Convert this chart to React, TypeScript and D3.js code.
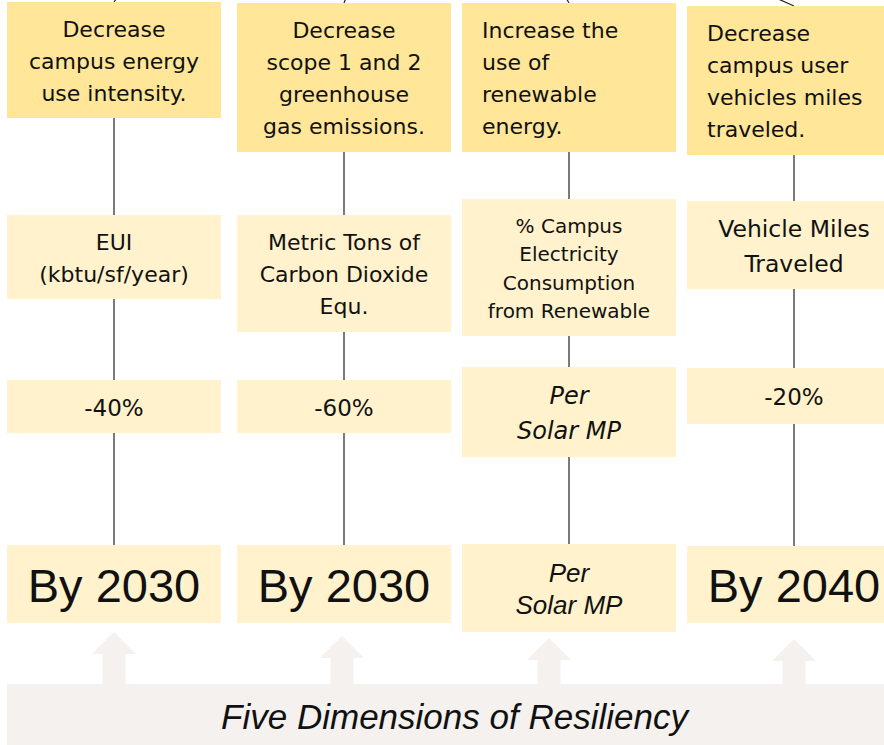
import { useRef, useEffect } from 'react';
import * as d3 from 'd3';

// diagram content, one entry per column
const goals = [
  ['Decrease', 'campus energy', 'use intensity.'],
  ['Decrease', 'scope 1 and 2', 'greenhouse', 'gas emissions.'],
  ['Increase the', 'use of', 'renewable', 'energy.'],
  ['Decrease', 'campus user', 'vehicles miles', 'traveled.'],
];
const metrics = [
  ['EUI', '(kbtu/sf/year)'],
  ['Metric Tons of', 'Carbon Dioxide', 'Equ.'],
  ['% Campus', 'Electricity', 'Consumption', 'from Renewable'],
  ['Vehicle Miles', 'Traveled'],
];
const targets = [['-40%'], ['-60%'], ['Per', 'Solar MP'], ['-20%']];
const deadlines = [['By 2030'], ['By 2030'], ['Per', 'Solar MP'], ['By 2040']];
const foundation = 'Five Dimensions of Resiliency';

const W = 884;
const H = 745;
const colLeft = [7, 237, 462, 687];
const boxW = 214;
// [top, bottom] of each box, per row then column
const rowBoxes = [
  [[2, 118], [3, 152], [3, 152], [6, 155]],
  [[215, 299], [215, 332], [199, 336], [201, 289]],
  [[380, 433], [380, 433], [367, 457], [368, 424]],
  [[545, 623], [545, 623], [544, 632], [546, 623]],
];
const arrowX = [114, 342, 549, 794];
const arrowTip = [632, 636, 638, 639];
const bannerTop = 684;
const connectorDx = [3, 2, -3, -18];

export default function App() {
  const svgRef = useRef(null);

  useEffect(() => {
    const svg = d3.select(svgRef.current);
    svg.selectAll('*').remove();

    const cols = d3.range(goals.length);
    const cx = (i) => colLeft[i] + boxW / 2;

    // vertical connectors behind the boxes
    svg.append('g')
      .selectAll('line')
      .data(cols)
      .join('line')
      .attr('x1', (i) => cx(i))
      .attr('x2', (i) => cx(i))
      .attr('y1', (i) => rowBoxes[0][i][1])
      .attr('y2', (i) => rowBoxes[3][i][0])
      .attr('stroke', '#222')
      .attr('stroke-width', 1.2);

    // stubs of the links going up to the parent node
    svg.append('g')
      .selectAll('line')
      .data(cols)
      .join('line')
      .attr('x1', (i) => cx(i))
      .attr('y1', (i) => rowBoxes[0][i][0])
      .attr('x2', (i) => cx(i) + connectorDx[i])
      .attr('y2', -2)
      .attr('stroke', '#222')
      .attr('stroke-width', 1.2);

    // arrows from the foundation banner
    const arrow = (x, tip) => {
      const p = d3.path();
      p.moveTo(x, tip);
      p.lineTo(x + 22, tip + 22);
      p.lineTo(x + 11.5, tip + 22);
      p.lineTo(x + 11.5, bannerTop + 1);
      p.lineTo(x - 11.5, bannerTop + 1);
      p.lineTo(x - 11.5, tip + 22);
      p.lineTo(x - 22, tip + 22);
      p.closePath();
      return p.toString();
    };
    svg.append('g')
      .selectAll('path')
      .data(cols)
      .join('path')
      .attr('d', (i) => arrow(arrowX[i], arrowTip[i]))
      .attr('fill', '#f4f1ee');

    svg.append('rect')
      .attr('x', colLeft[0])
      .attr('y', bannerTop)
      .attr('width', 895)
      .attr('height', H - bannerTop + 2)
      .attr('fill', '#f4f1ee');
    svg.append('text')
      .attr('x', colLeft[0] + 895 / 2)
      .attr('y', 729)
      .attr('text-anchor', 'middle')
      .attr('font-family', 'Liberation Sans, Arial, sans-serif')
      .attr('font-style', 'italic')
      .attr('font-size', 35)
      .attr('fill', '#111')
      .text(foundation);

    const rows = [
      { lines: goals, fill: '#ffe699', font: () => 22, lh: () => 32, italic: () => false, family: 'DejaVu Sans', left: (i) => i >= 2 },
      { lines: metrics, fill: '#fff2cc', font: (i) => [22, 22, 20, 23.5][i], lh: (i) => [32, 32, 28.5, 35][i], italic: () => false, family: 'DejaVu Sans', left: () => false },
      { lines: targets, fill: '#fff2cc', font: (i) => (i === 2 ? 24 : 23), lh: () => 35, italic: (i) => i === 2, family: 'DejaVu Sans', left: () => false },
      { lines: deadlines, fill: '#fff2cc', font: (i) => (i === 2 ? 26 : 47), lh: () => 32, italic: (i) => i === 2, family: 'Liberation Sans', left: () => false },
    ];

    rows.forEach((row, r) => {
      const g = svg.append('g');
      cols.forEach((i) => {
        const [top, bottom] = rowBoxes[r][i];
        g.append('rect')
          .attr('x', colLeft[i])
          .attr('y', top)
          .attr('width', boxW)
          .attr('height', bottom - top)
          .attr('fill', row.fill);

        const lines = row.lines[i];
        const fs = row.font(i);
        const lh = row.lh(i);
        const cap = fs * 0.72;
        const blockH = cap + (lines.length - 1) * lh;
        const firstBase = (top + bottom) / 2 - blockH / 2 + cap + 1;
        const left = row.left(i);

        g.append('text')
          .attr('font-family', row.family)
          .attr('font-size', fs)
          .attr('font-style', row.italic(i) ? 'italic' : 'normal')
          .attr('fill', '#111')
          .attr('text-anchor', left ? 'start' : 'middle')
          .selectAll('tspan')
          .data(lines)
          .join('tspan')
          .attr('x', left ? colLeft[i] + 20 : cx(i))
          .attr('y', (d, k) => firstBase + k * lh)
          .text((d) => d);
      });
    });
  }, []);

  return (
    <svg
      ref={svgRef}
      width={W}
      height={H}
      style={{ position: 'absolute', left: 0, top: 0, background: '#fff' }}
    ></svg>
  );
}
